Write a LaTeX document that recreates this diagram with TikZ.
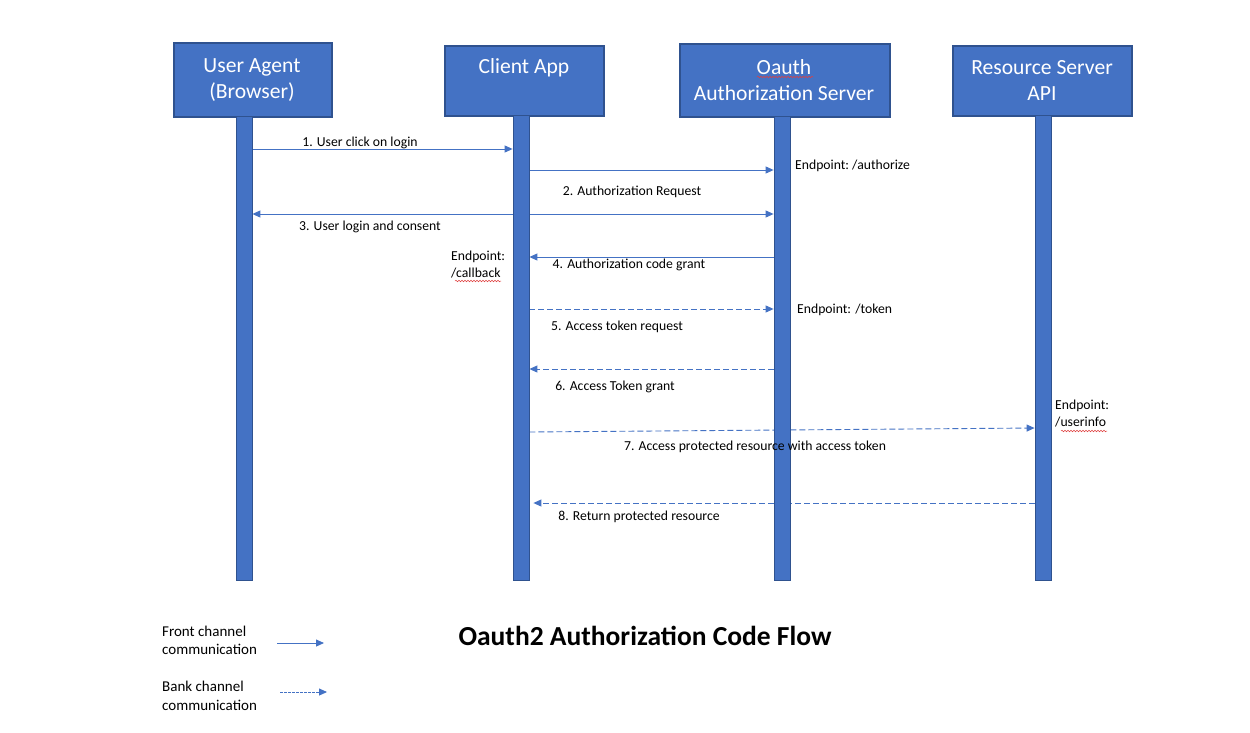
\documentclass[tikz,border=0pt]{standalone}
\usepackage{fontspec}
\setmainfont{Carlito}
\usetikzlibrary{arrows.meta,decorations.pathmorphing}
\definecolor{ofill}{HTML}{4472C4}
\definecolor{oline}{HTML}{2F528F}
\definecolor{squig}{HTML}{E0403F}
\begin{document}
\begin{tikzpicture}[x=1pt,y=-1pt,
  hdr/.style={draw=oline,line width=1.6pt,fill=ofill,inner sep=0pt,anchor=north west},
  hdrtext/.style={text=white,font=\fontsize{21.6}{26}\selectfont,align=center,inner sep=0pt},
  lifebar/.style={draw=oline,line width=0.8pt,fill=ofill,inner sep=0pt,minimum width=16pt,minimum height=464pt,anchor=north},
  msg/.style={font=\fontsize{13.7}{17}\selectfont,inner sep=0pt},
  ep/.style={font=\fontsize{13.7}{17}\selectfont,inner sep=0pt,align=left,anchor=west},
  lgd/.style={font=\fontsize{15}{18.5}\selectfont,inner sep=0pt,align=left,anchor=west},
  front/.style={draw=ofill,line width=0.9pt,-{Triangle[length=8pt,width=7pt]}},
  back/.style={front,dash pattern=on 6pt off 3pt},
  spell/.style={draw=squig,line width=0.5pt,decorate,decoration={snake,segment length=3pt,amplitude=0.8pt}}]
\useasboundingbox (0,0) rectangle (1250,732);
\fill[white] (0,0) rectangle (1250,732);
% header boxes
\node[hdr,minimum width=158pt,minimum height=74pt] (hua) at (173,42) {};
\node[hdr,minimum width=159pt,minimum height=70pt] (hca) at (444,45) {};
\node[hdr,minimum width=210pt,minimum height=73pt] (hoa) at (679,43) {};
\node[hdr,minimum width=179pt,minimum height=70pt] (hrs) at (952,45) {};
\node[hdrtext] (tua) at (252,80) {User Agent\\(Browser)};
\node[hdrtext] (tca) at (524,68) {Client App};
\node[hdrtext] (toa) at (784,80) {Oauth\\Authorization Server};
\node[hdrtext] (trs) at (1042,80) {Resource Server\\API};
\draw[spell] (757,77) -- (813,77);
% row coordinates
\coordinate (r1) at (0,149);
\coordinate (r2) at (0,170);
\coordinate (r3) at (0,214);
\coordinate (r4) at (0,257);
\coordinate (r5) at (0,309);
\coordinate (r6) at (0,369);
\coordinate (r7a) at (0,432);
\coordinate (r7b) at (0,428);
\coordinate (r8) at (0,503);
% lifeline bars (invisible first to get anchors)
\path (244,116) node[lifebar,draw=none,fill=none] (ua) {};
\path (521,115) node[lifebar,draw=none,fill=none,minimum height=465pt] (ca) {};
\path (782,116) node[lifebar,draw=none,fill=none] (oa) {};
\path (1043,115) node[lifebar,draw=none,fill=none,minimum height=465pt] (rs) {};
% messages
\draw[front] (ua.east |- r1) -- (ca.west |- r1);
\draw[front] (ca.east |- r2) -- (oa.west |- r2);
\draw[front,{Triangle[length=8pt,width=7pt]}-{Triangle[length=8pt,width=7pt]}] (ua.east |- r3) -- (oa.west |- r3);
\draw[front] (oa.west |- r4) -- (ca.east |- r4);
\draw[back] (ca.east |- r5) -- (oa.west |- r5);
\draw[back] (oa.west |- r6) -- (ca.east |- r6);
\draw[back] (ca.east |- r7a) -- (rs.west |- r7b);
\draw[back] (rs.west |- r8) -- ([xshift=4pt]ca.east |- r8);
% bars on top
\node[lifebar] (uab) at (244,116) {};
\node[lifebar,minimum height=465pt] (cab) at (521,115) {};
\node[lifebar] (oab) at (782,116) {};
\node[lifebar,minimum height=465pt] (rsb) at (1043,115) {};
% message labels
\node[msg] (l1) at (360,143) {1. User click on login};
\node[msg] (l2) at (632,192) {2. Authorization Request};
\node[msg] (l3) at (370,227) {3. User login and consent};
\node[msg] (l4) at (629,265) {4. Authorization code grant};
\node[msg] (l5) at (617,327) {5. Access token request};
\node[msg] (l6) at (615,387) {6. Access Token grant};
\node[msg] (l7) at (755,447) {7. Access protected resource with access token};
\node[msg] (l8) at (639,517) {8. Return protected resource};
% endpoints
\node[ep] (e1) at (795,166) {Endpoint:~/authorize};
\node[ep] (e2) at (451,264.5) {Endpoint:\\/callback};
\draw[spell] (455,281) -- (501,281);
\node[ep] (e3) at (797,310) {Endpoint: /token};
\node[ep] (e4) at (1055,414) {Endpoint:\\/userinfo};
\draw[spell] (1061,431) -- (1107,431);
% title
\node[font=\fontsize{27.5}{32}\selectfont\bfseries,inner sep=0pt] (title) at (645,636) {Oauth2 Authorization Code Flow};
% legend
\node[lgd] (lg1) at (162,640.5) {Front channel\\communication};
\node[lgd] (lg2) at (162,696) {Bank channel\\communication};
\coordinate (f1) at (277,643);
\coordinate (f2) at (324,643);
\coordinate (b1) at (280,692);
\coordinate (b2) at (327,692);
\draw[front] (f1) -- (f2);
\draw[front,dash pattern=on 2.5pt off 1.5pt] (b1) -- (b2);
\end{tikzpicture}
\end{document}
